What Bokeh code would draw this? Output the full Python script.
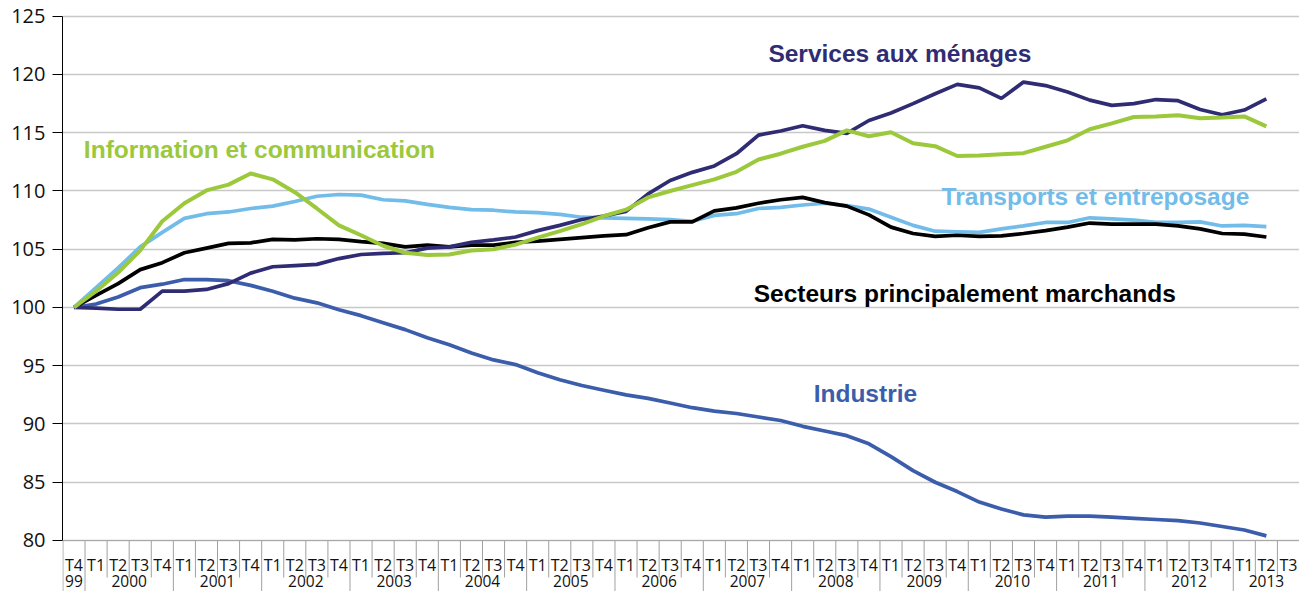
from bokeh.plotting import figure
from bokeh.models import FixedTicker, Label, Span, ColumnDataSource
from bokeh.core.properties import value
from bokeh.embed import file_html
from bokeh.resources import INLINE

# ---------------- data ----------------
quarters = ["T4"] + ["T1", "T2", "T3", "T4"] * 13 + ["T1", "T2", "T3"]
years = ["99"] + [str(y) for y in range(2000, 2013) for _ in range(4)] + ["2013"] * 3
y_ticks = [80, 85, 90, 95, 100, 105, 110, 115, 120, 125]

industrie = [100.0, 100.3, 100.9, 101.7, 102.0, 102.4, 102.4, 102.3, 101.9, 101.4,
             100.8, 100.4, 99.8, 99.3, 98.7, 98.1, 97.4, 96.8, 96.1, 95.5,
             95.1, 94.4, 93.8, 93.3, 92.9, 92.5, 92.2, 91.8, 91.4, 91.1,
             90.9, 90.6, 90.3, 89.8, 89.4, 89.0, 88.3, 87.2, 86.0, 85.0,
             84.2, 83.3, 82.7, 82.2, 82.0, 82.1, 82.1, 82.0, 81.9, 81.8,
             81.7, 81.5, 81.2, 80.9, 80.4]

services = [100.0, 99.95, 99.85, 99.85, 101.4, 101.4, 101.55, 102.05, 102.95, 103.5,
            103.6, 103.7, 104.2, 104.55, 104.65, 104.7, 105.1, 105.2, 105.6, 105.8,
            106.05, 106.6, 107.05, 107.55, 107.85, 108.25, 109.75, 110.9, 111.6, 112.15,
            113.2, 114.8, 115.15, 115.6, 115.2, 114.95, 116.05, 116.7, 117.5, 118.35,
            119.15, 118.85, 117.95, 119.35, 119.05, 118.5, 117.8, 117.35, 117.5, 117.85,
            117.75, 117.0, 116.55, 116.95, 117.9]

information = [100.0, 101.4, 103.0, 104.9, 107.4, 108.95, 110.05, 110.55, 111.5, 111.0,
               109.9, 108.5, 107.05, 106.2, 105.3, 104.7, 104.5, 104.55, 104.9, 105.0,
               105.4, 106.0, 106.55, 107.15, 107.85, 108.4, 109.45, 110.0, 110.5, 111.0,
               111.65, 112.7, 113.2, 113.8, 114.3, 115.2, 114.7, 115.05, 114.1, 113.85,
               113.0, 113.05, 113.15, 113.25, 113.8, 114.35, 115.3, 115.8, 116.35, 116.4,
               116.5, 116.25, 116.3, 116.4, 115.55]

transports = [100.0, 101.7, 103.4, 105.2, 106.45, 107.65, 108.05, 108.2, 108.5, 108.7,
              109.1, 109.55, 109.7, 109.65, 109.25, 109.15, 108.85, 108.6, 108.4, 108.35,
              108.2, 108.15, 108.0, 107.75, 107.7, 107.65, 107.6, 107.55, 107.4, 107.9,
              108.05, 108.5, 108.6, 108.8, 108.95, 108.75, 108.45, 107.75, 107.05, 106.55,
              106.5, 106.45, 106.75, 107.0, 107.3, 107.3, 107.7, 107.6, 107.5, 107.3,
              107.3, 107.35, 107.0, 107.05, 106.95]

marchands = [100.0, 101.05, 102.05, 103.25, 103.85, 104.7, 105.1, 105.5, 105.55, 105.85,
             105.8, 105.9, 105.85, 105.65, 105.5, 105.2, 105.35, 105.2, 105.35, 105.35,
             105.6, 105.7, 105.85, 106.0, 106.15, 106.25, 106.85, 107.35, 107.35, 108.3,
             108.55, 108.95, 109.25, 109.45, 109.0, 108.7, 107.95, 106.9, 106.35, 106.1,
             106.2, 106.1, 106.15, 106.35, 106.6, 106.9, 107.25, 107.15, 107.15, 107.15,
             107.0, 106.75, 106.35, 106.3, 106.05]

# ---------------- figure ----------------
W, H = 1299, 591
TOP_BORDER = 14
Y_TOP = 125.15
PX_PER_UNIT = 11.65
Y_LO = Y_TOP - (H - TOP_BORDER) / PX_PER_UNIT


def y_at(px):
    """data value at a given pixel row of the figure"""
    return Y_TOP - (px - TOP_BORDER) / PX_PER_UNIT


n_cells = len(quarters)
p = figure(width=W, height=H, output_backend="svg", toolbar_location=None,
           x_range=(-0.52, n_cells - 0.5), y_range=(Y_LO, Y_TOP),
           x_axis_location=None,
           min_border_left=62, min_border_right=0, min_border_top=TOP_BORDER,
           min_border_bottom=0)
p.outline_line_color = None
p.background_fill_color = "white"
p.border_fill_color = "white"

p.yaxis.ticker = FixedTicker(ticks=y_ticks)
p.yaxis.bounds = (y_ticks[0], y_ticks[-1])
p.yaxis.axis_line_color = "black"
p.yaxis.major_tick_line_color = "black"
p.yaxis.major_tick_out = 10
p.yaxis.major_tick_in = 0
p.yaxis.minor_tick_line_color = None
p.yaxis.major_label_standoff = 7
p.yaxis.major_label_text_font = "Open Sans"
p.yaxis.major_label_text_font_size = "20px"
p.yaxis.major_label_text_color = "#111111"

p.ygrid.ticker = FixedTicker(ticks=y_ticks)
p.ygrid.grid_line_color = "#C8C8C8"
p.ygrid.grid_line_width = 1.5
for g in p.xgrid:
    g.visible = False

p.add_layout(Span(location=y_ticks[0], dimension="width", line_color="#A8A8A8", line_width=1.2))

# ---------------- category axis (two levels) ----------------
ROW_SHORT = y_at(577)
Q_LABEL_Y = y_at(564)
YEAR_LABEL_Y = y_at(580.5)

bx, by1 = [], []
for i in range(n_cells + 1):
    long_sep = i == 0 or i == n_cells or years[i] != years[i - 1]
    bx.append(i - 0.5)
    by1.append(Y_LO if long_sep else ROW_SHORT)
p.segment(x0=bx, y0=[y_ticks[0]] * len(bx), x1=bx, y1=by1,
          line_color="#A0A0A0", line_width=1)

qsrc = ColumnDataSource(dict(x=list(range(n_cells)), y=[Q_LABEL_Y] * n_cells, t=quarters))
p.text(x="x", y="y", text="t", source=qsrc, text_align="center", text_baseline="middle",
       text_font=value("Open Sans"), text_font_size="16px", text_color="#111111")

ylabels, ycenters = [], []
for yv in dict.fromkeys(years):
    idxs = [i for i, v in enumerate(years) if v == yv]
    ylabels.append(yv)
    ycenters.append(sum(idxs) / len(idxs))
ysrc = ColumnDataSource(dict(x=ycenters, y=[YEAR_LABEL_Y] * len(ycenters), t=ylabels))
p.text(x="x", y="y", text="t", source=ysrc, text_align="center", text_baseline="middle",
       text_font=value("Open Sans"), text_font_size="15.5px", text_color="#111111")

# ---------------- lines ----------------
C_IND = "#3B5DAB"
C_SER = "#302C73"
C_INF = "#9CC83C"
C_TRA = "#72BCE9"
C_MAR = "#000000"

idx = list(range(len(industrie)))
p.line(idx, transports, line_color=C_TRA, line_width=3.7)
p.line(idx, industrie, line_color=C_IND, line_width=3.7)
p.line(idx, marchands, line_color=C_MAR, line_width=3.7)
p.line(idx, services, line_color=C_SER, line_width=3.7)
p.line(idx, information, line_color=C_INF, line_width=4)


# ---------------- series labels ----------------
def lab(x, y, text, color):
    p.add_layout(Label(x=x, y=y, text=text, text_color=color, text_font="Liberation Sans",
                       text_font_style="bold", text_font_size="24.5px",
                       text_align="center", text_baseline="middle"))


lab(37.4, 121.8, "Services aux ménages", C_SER)
lab(8.4, 113.56, "Information et communication", C_INF)
lab(46.26, 109.5, "Transports et entreposage", C_TRA)
lab(40.34, 101.18, "Secteurs principalement marchands", C_MAR)
lab(35.84, 92.6, "Industrie", C_IND)

open("out.html", "w").write(file_html(p, INLINE))
